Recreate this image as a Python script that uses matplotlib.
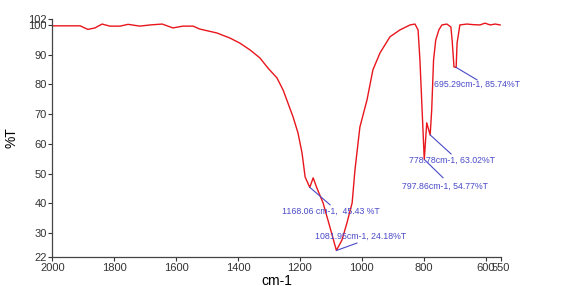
import numpy as np
import matplotlib
matplotlib.use("Agg")
import matplotlib.pyplot as plt

# FTIR spectrum
wavenumber = [2000, 1910, 1885, 1862, 1839, 1814, 1781, 1755, 1717, 1684, 1645, 1610,
              1578, 1545, 1523, 1468, 1426, 1394, 1361, 1329, 1303, 1274, 1254, 1222,
              1206, 1193, 1183, 1168, 1157, 1145, 1125, 1103, 1082, 1064, 1048, 1031,
              1022, 1012, 1006, 983, 964, 941, 909, 877, 844, 828, 818, 812, 805, 798,
              790, 779, 774, 768, 761, 751, 741, 725, 712, 708, 702, 695, 692, 683,
              660, 640, 618, 602, 585, 569, 553]
transmittance = [99.7, 99.7, 98.5, 99.0, 100.3, 99.6, 99.6, 100.2, 99.6, 100.0, 100.3, 99.0,
                 99.6, 99.6, 98.6, 97.3, 95.6, 93.9, 91.6, 88.9, 85.5, 82.2, 78.1, 69.1,
                 63.7, 57.0, 48.9, 45.4, 48.6, 45.2, 40.2, 32.1, 24.2, 27.7, 33.4, 40.2,
                 51.2, 60.3, 65.7, 74.8, 84.9, 90.6, 96.0, 98.3, 100.0, 100.3, 98.3, 88.2,
                 71.4, 54.8, 67.1, 63.0, 71.4, 88.2, 94.9, 98.3, 100.0, 100.3, 99.3, 94.9,
                 85.9, 85.7, 93.9, 100.0, 100.3, 100.1, 100.0, 100.6, 100.0, 100.3, 100.0]

# peak labels
peak_x = [1168.06, 1081.95, 695.29, 778.78, 797.86]
peak_y = [45.43, 24.18, 85.74, 63.02, 54.77]
peak_text = ["1168.06 cm-1,  45.43 %T", "1081.95cm-1, 24.18%T", "695.29cm-1, 85.74%T",
             "778.78cm-1, 63.02%T", "797.86cm-1, 54.77%T"]
leader_end = [(1102, 39.5), (1015, 26.7), (627, 81.5), (711, 56.6), (737, 48.6)]
text_pos = [(1099, 37.3), (1004, 28.9), (627, 80.0), (709, 54.4), (731, 45.9)]

xticks = [2000, 1800, 1600, 1400, 1200, 1000, 800, 600, 550]
yticks = [22, 30, 40, 50, 60, 70, 80, 90, 100, 102]

plt.rcParams['font.family'] = ['Liberation Sans', 'DejaVu Sans']

fig = plt.figure(figsize=(5.62, 2.86), dpi=100)
ax = fig.add_axes([0.093, 0.1014, 0.7985, 0.8322])

ax.plot(wavenumber, transmittance, color='#e8161c', linewidth=1.0)

for px, py, lbl, le, tp in zip(peak_x, peak_y, peak_text, leader_end, text_pos):
    ax.annotate('', xy=(px, py), xytext=le,
                arrowprops=dict(arrowstyle='-', color='#4a4ac8', lw=0.8, shrinkA=0, shrinkB=0))
    ax.text(tp[0], tp[1], lbl, color='#4a4ac8', fontsize=6.3, ha='center', va='center')

ax.set_xlim(2000, 550)
ax.set_ylim(22, 102)
ax.set_xticks(xticks)
ax.set_yticks(yticks)
ax.tick_params(labelsize=8, colors='#333333', length=3, width=0.8, pad=1)
for side in ['top', 'right']:
    ax.spines[side].set_visible(False)
for side in ['left', 'bottom']:
    ax.spines[side].set_color('#444444')
    ax.spines[side].set_linewidth(0.9)

ax.set_xlabel('cm-1', fontsize=10, labelpad=1)
ax.set_ylabel('%T', fontsize=10, labelpad=7)

fig.savefig('out.png', dpi=100)
